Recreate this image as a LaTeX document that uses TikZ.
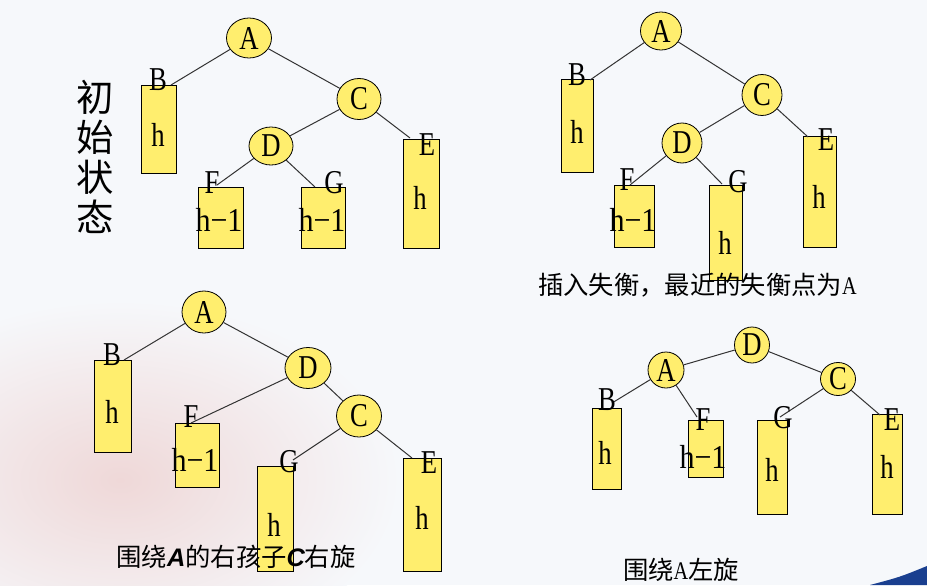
\documentclass[tikz,border=0pt]{standalone}
\usepackage{fontspec}
\setmainfont{Liberation Serif}
\newfontfamily\cjk{Noto Sans CJK SC}
\newfontfamily\sansA{Liberation Sans}
\usepackage{graphicx}
\usetikzlibrary{shapes.geometric}
\definecolor{nodeyellow}{HTML}{FFEE6E}
\definecolor{bgc}{HTML}{F6F8FB}
\definecolor{pinkbg}{HTML}{EFD8D8}
\definecolor{swoosh}{HTML}{1A3F8F}
\definecolor{edgec}{HTML}{333333}
\newcommand\nl[1]{\scalebox{0.8}[1]{#1}}
\newcommand\hm{\scalebox{0.9}[1]{h−1}}
\newcommand\bi[1]{{\sansA\bfseries\itshape #1}}
\begin{document}
\begin{tikzpicture}[x=0.75pt,y=-0.75pt,
 tnode/.style 2 args={ellipse,draw=black,fill=nodeyellow,inner sep=0pt,line width=0.6pt,
   minimum width=#1*0.75pt,minimum height=#2*0.75pt,font=\fontsize{25}{25}\selectfont},
 subtree/.style 2 args={rectangle,draw=black,fill=nodeyellow,inner sep=0pt,line width=0.75pt,
   minimum width=#1*0.75pt,minimum height=#2*0.75pt},
 lab/.style={inner sep=0pt,font=\fontsize{25}{25}\selectfont},
 edge/.style={draw=edgec,line width=0.75pt},
 capt/.style={inner sep=0pt,font=\cjk\fontsize{19}{19}\selectfont}]
% background
\fill[bgc] (0,0) rectangle (927,585);
\useasboundingbox (0,0) rectangle (927,585);
\begin{scope}
\clip (0,0) rectangle (927,585);
\shade[inner color=pinkbg,outer color=bgc] (120,480) ellipse (280 and 180);
\end{scope}
\fill[swoosh] (870,585) .. controls (900,577) .. (927,566) -- (927,585) -- cycle;

% ---------- tree 1 ----------
\node[align=center,inner sep=0pt,font=\cjk\fontsize{28}{30}\selectfont] (t1cap) at (95,157) {初\\始\\状\\态};
\node[tnode={45}{40}] (A1) at (249,38) {\nl{A}};
\node[tnode={44}{41}] (C1) at (359,99) {\nl{C}};
\node[tnode={44}{38}] (D1) at (271,146) {\nl{D}};
\node[subtree={35}{88}] (B1r) at (158.5,129) {};
\node[subtree={36}{109}] (E1r) at (421,193.5) {};
\node[subtree={45}{61}] (F1r) at (220.5,217.5) {};
\node[subtree={44}{61}] (G1r) at (323,217.5) {};
\coordinate (B1e) at (171,85);
\coordinate (E1e) at (410,138);
\coordinate (F1e) at (217,185);
\coordinate (G1e) at (315,187);
\draw[edge] (A1) -- (B1e);
\draw[edge] (A1) -- (C1);
\draw[edge] (C1) -- (D1);
\draw[edge] (C1) -- (E1e);
\draw[edge] (D1) -- (F1e);
\draw[edge] (D1) -- (G1e);
\node[lab] (B1l) at (158,80) {\nl{B}};
\node[lab] (B1h) at (158,135) {\nl{h}};
\node[lab] (E1l) at (427,145) {\nl{E}};
\node[lab] (E1h) at (420,198) {\nl{h}};
\node[lab] (F1l) at (212,183) {\nl{F}};
\node[lab] (F1h) at (219,220) {\hm};
\node[lab] (G1l) at (334,183) {\nl{G}};
\node[lab] (G1h) at (322,220) {\hm};

% ---------- tree 2 ----------
\node[tnode={41}{38}] (A2) at (661,31) {\nl{A}};
\node[tnode={40}{41}] (C2) at (762,95) {\nl{C}};
\node[tnode={40}{40}] (D2) at (682,143) {\nl{D}};
\node[subtree={32}{92}] (B2r) at (577,126) {};
\node[subtree={33}{111}] (E2r) at (819.5,191.5) {};
\node[subtree={40}{62}] (F2r) at (634,216) {};
\node[subtree={33}{95}] (G2r) at (725.5,232.5) {};
\coordinate (B2e) at (590,80);
\coordinate (E2e) at (808,137);
\coordinate (F2e) at (630,185);
\coordinate (G2e) at (722,184);
\draw[edge] (A2) -- (B2e);
\draw[edge] (A2) -- (C2);
\draw[edge] (C2) -- (D2);
\draw[edge] (C2) -- (E2e);
\draw[edge] (D2) -- (F2e);
\draw[edge] (D2) -- (G2e);
\node[lab] (B2l) at (577,75) {\nl{B}};
\node[lab] (B2h) at (577,132) {\nl{h}};
\node[lab] (E2l) at (826,140) {\nl{E}};
\node[lab] (E2h) at (819,197) {\nl{h}};
\node[lab] (F2l) at (627,180) {\nl{F}};
\node[lab] (F2h) at (633,220) {\hm};
\node[lab] (G2l) at (738,182) {\nl{G}};
\node[lab] (G2h) at (725,243) {\nl{h}};
\node[capt] (t2cap) at (697.5,285) {插入失衡，最近的失衡点为{\rmfamily\nl{A}}};

% ---------- tree 3 ----------
\node[tnode={44}{42}] (A3) at (204,312) {\nl{A}};
\node[tnode={46}{41}] (D3) at (308,368) {\nl{D}};
\node[tnode={45}{42}] (C3) at (359,416) {\nl{C}};
\node[subtree={37}{92}] (B3r) at (112.5,406) {};
\node[subtree={44}{64}] (F3r) at (197,455) {};
\node[subtree={36}{105}] (G3r) at (275,518.5) {};
\node[subtree={38}{113}] (E3r) at (422,514.5) {};
\coordinate (B3e) at (124,360);
\coordinate (F3e) at (191,423);
\coordinate (G3e) at (293,460);
\coordinate (E3e) at (412,458);
\draw[edge] (A3) -- (B3e);
\draw[edge] (A3) -- (D3);
\draw[edge] (D3) -- (F3e);
\draw[edge] (D3) -- (C3);
\draw[edge] (C3) -- (G3e);
\draw[edge] (C3) -- (E3e);
\node[lab] (B3l) at (112,355) {\nl{B}};
\node[lab] (B3h) at (112,412) {\nl{h}};
\node[lab] (F3l) at (191,417) {\nl{F}};
\node[lab] (F3h) at (195,460) {\hm};
\node[lab] (G3l) at (289,462) {\nl{G}};
\node[lab] (G3h) at (274,525) {\nl{h}};
\node[lab] (E3l) at (429,463) {\nl{E}};
\node[lab] (E3h) at (422,518) {\nl{h}};
\node[capt] (t3cap) at (236,557) {围绕\bi{A}的右孩子\bi{C}右旋};

% ---------- tree 4 ----------
\node[tnode={35}{36}] (D4) at (752,345) {\nl{D}};
\node[tnode={36}{36}] (A4) at (666,370) {\nl{A}};
\node[tnode={35}{33}] (C4) at (838,379) {\nl{C}};
\node[subtree={29}{81}] (B4r) at (606.5,448.5) {};
\node[subtree={35}{57}] (F4r) at (705.5,448.5) {};
\node[subtree={30}{94}] (G4r) at (772,467) {};
\node[subtree={30}{100}] (E4r) at (887,464) {};
\coordinate (B4e) at (612,403);
\coordinate (F4e) at (697,417);
\coordinate (G4e) at (780,417);
\coordinate (E4e) at (880,415);
\draw[edge] (D4) -- (A4);
\draw[edge] (D4) -- (C4);
\draw[edge] (A4) -- (B4e);
\draw[edge] (A4) -- (F4e);
\draw[edge] (C4) -- (G4e);
\draw[edge] (C4) -- (E4e);
\node[lab] (B4l) at (607,400) {\nl{B}};
\node[lab] (B4h) at (605,453) {\nl{h}};
\node[lab] (F4l) at (703,420) {\nl{F}};
\node[lab] (F4h) at (703,457) {\hm};
\node[lab] (G4l) at (783,418) {\nl{G}};
\node[lab] (G4h) at (772,470) {\nl{h}};
\node[lab] (E4l) at (892,420) {\nl{E}};
\node[lab] (E4h) at (887,467) {\nl{h}};
\node[capt] (t4cap) at (681,570) {围绕{\rmfamily\nl{A}}左旋};
\end{tikzpicture}
\end{document}
